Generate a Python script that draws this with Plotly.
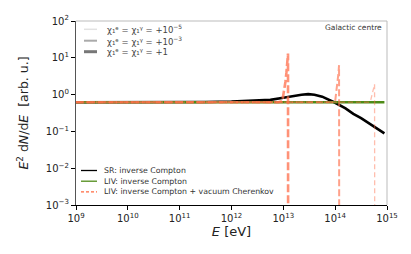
import numpy as np
import plotly.graph_objects as go

# ---- data (log10 of energy in eV, E^2 dN/dE in arb. units) ----
sr_logE = [9, 10, 11, 11.5, 12, 12.5, 12.75, 13.0, 13.2, 13.35, 13.48, 13.6, 13.75, 13.9, 14.0,
           14.2, 14.35, 14.5, 14.68, 14.8, 14.95]
sr_val = [0.62, 0.62, 0.62, 0.63, 0.65, 0.69, 0.72, 0.82, 0.92, 0.99, 1.03, 0.99, 0.88, 0.7, 0.6,
          0.42, 0.30, 0.23, 0.16, 0.125, 0.088]

liv_logE = [9, 10, 11, 12, 13, 14, 14.95]
liv_val = [0.62, 0.62, 0.62, 0.62, 0.62, 0.62, 0.62]

vc1_logE = [9, 12.9, 12.98, 13.01, 13.04, 13.06, 13.08, 13.09, 13.0925]
vc1_val = [0.62, 0.62, 0.66, 1.1, 2.2, 4.0, 8.0, 13.0, 1e-4]
vc2_logE = [9, 13.98, 14.0, 14.03, 14.05, 14.065, 14.075, 14.078]
vc2_val = [0.62, 0.62, 0.66, 1.3, 2.4, 4.0, 6.3, 1e-4]
vc3_logE = [9, 14.66, 14.69, 14.72, 14.745, 14.76, 14.763]
vc3_val = [0.62, 0.62, 0.75, 1.1, 1.5, 1.9, 1e-4]

x_tick_exp = [9, 10, 11, 12, 13, 14, 15]
y_tick_exp = [-3, -2, -1, 0, 1, 2]

chi_labels = ["χ₁ᵉ = χ₁ᵞ = +10<sup>−5</sup>", "χ₁ᵉ = χ₁ᵞ = +10<sup>−3</sup>", "χ₁ᵉ = χ₁ᵞ = +1"]
proc_labels = ["SR: inverse Compton", "LIV: inverse Compton",
               "LIV: inverse Compton + vacuum Cherenkov"]

FONT = "DejaVu Sans"
W, H = 411, 254
L, R, T, B = 76, 24, 21, 49
pw, ph = W - L - R, H - T - B

def px(x):
    return (x - L) / pw

def py(y):
    return (H - B - y) / ph

def pow_label(e):
    return "10<sup>" + str(e).replace("-", "−") + "</sup>"

fig = go.Figure()
fig.add_trace(go.Scatter(x=10 ** np.array(sr_logE), y=sr_val, mode="lines",
                         line=dict(color="black", width=2.6), showlegend=False))
fig.add_trace(go.Scatter(x=10 ** np.array(liv_logE), y=liv_val, mode="lines",
                         line=dict(color="#4e8b17", width=2.4), showlegend=False))
orange = "255,110,75"
for lx, vy, w, a, d in [(vc3_logE, vc3_val, 1.3, 0.45, "5px,3px"),
                        (vc2_logE, vc2_val, 2.0, 0.65, "7px,3px"),
                        (vc1_logE, vc1_val, 2.6, 0.75, "8px,3px")]:
    fig.add_trace(go.Scatter(x=10 ** np.array(lx), y=vy, mode="lines",
                             line=dict(color=f"rgba({orange},{a})", width=w, dash=d),
                             showlegend=False))

shapes = [
    dict(type="line", xref="paper", yref="paper", x0=0, x1=1, y0=1, y1=1,
         line=dict(color="#bbbbbb", width=1)),
    dict(type="line", xref="paper", yref="paper", x0=1, x1=1, y0=0, y1=1,
         line=dict(color="#bbbbbb", width=1)),
]
annotations = []

# legend 1 (line widths)
for lab, yy, col, w in zip(chi_labels, [29.3, 40.7, 51.7],
                           ["#e2e2e2", "#aaaaaa", "#777777"], [1.5, 2.0, 3.0]):
    shapes.append(dict(type="line", xref="paper", yref="paper", x0=px(84), x1=px(97),
                       y0=py(yy), y1=py(yy), line=dict(color=col, width=w)))
    annotations.append(dict(text=lab, xref="paper", yref="paper", x=px(105), y=py(yy),
                            xanchor="left", yanchor="middle", showarrow=False,
                            font=dict(family=FONT, size=8.5, color="#444444")))

# legend 2 (processes)
for lab, yy, col, d, w in zip(proc_labels, [170.5, 181.2, 191.8],
                              ["black", "#4e8b17", "#ff6a40"], ["solid", "solid", "3px,2px"],
                              [1.3, 1.3, 1.2]):
    shapes.append(dict(type="line", xref="paper", yref="paper", x0=px(81), x1=px(97),
                       y0=py(yy), y1=py(yy), line=dict(color=col, width=w, dash=d)))
    annotations.append(dict(text=lab, xref="paper", yref="paper", x=px(102), y=py(yy),
                            xanchor="left", yanchor="middle", showarrow=False,
                            font=dict(family=FONT, size=7.8, color="#333333")))

annotations.append(dict(text="Galactic centre", xref="paper", yref="paper", x=px(384), y=py(27),
                        xanchor="right", yanchor="middle", showarrow=False,
                        font=dict(family=FONT, size=7.5, color="#333333")))

axis_common = dict(type="log", showgrid=False, zeroline=False,
                   ticks="outside", ticklen=4, tickwidth=1, tickcolor="black",
                   ticklabeloverflow="allow",
                   tickfont=dict(family=FONT, size=10, color="#222222"), showline=True)

fig.update_layout(
    width=W, height=H, margin=dict(l=L, r=R, t=T, b=B),
    paper_bgcolor="white", plot_bgcolor="white", showlegend=False,
    xaxis=dict(range=[9, 15], linecolor="black", linewidth=1.2,
               tickvals=[10.0 ** e for e in x_tick_exp],
               ticktext=[pow_label(e) for e in x_tick_exp],
               title=dict(text="<i>E</i> [eV]", standoff=3,
                          font=dict(family=FONT, size=13, color="#222222")),
               **axis_common),
    yaxis=dict(range=[-3, 2], linecolor="#555555", linewidth=1.2,
               tickvals=[10.0 ** e for e in y_tick_exp],
               ticktext=[pow_label(e) for e in y_tick_exp],
               title=dict(text="<i>E</i><sup>2</sup> d<i>N</i>/d<i>E</i>  [arb. u.]", standoff=14,
                          font=dict(family=FONT, size=12.5, color="#222222")),
               **axis_common),
    shapes=shapes, annotations=annotations,
)

fig.write_html("out.html", config={"displayModeBar": False},
               post_script="document.body.style.margin='0';document.body.style.overflow='hidden';")
